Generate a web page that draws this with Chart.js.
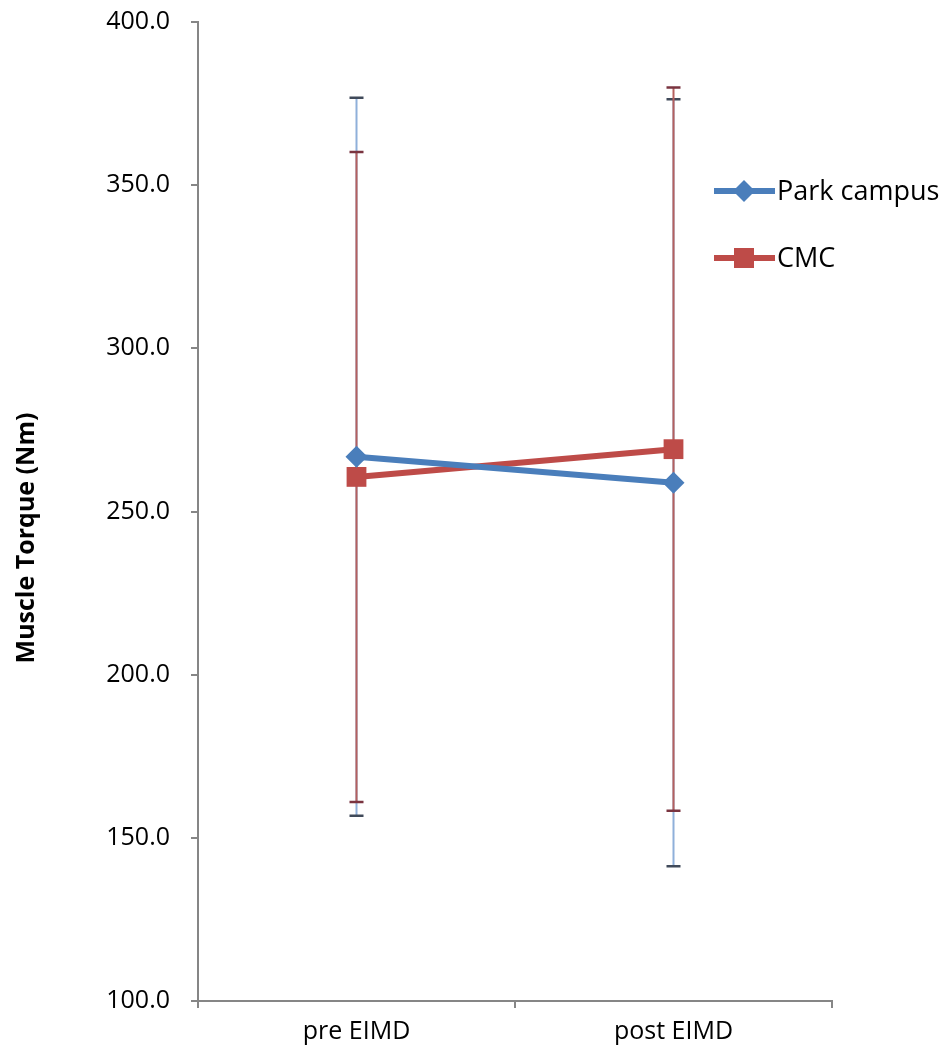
<!DOCTYPE html>
<html>
<head>
<meta charset="utf-8">
<title>Muscle Torque</title>
<script src="https://cdn.jsdelivr.net/npm/chart.js@4/dist/chart.umd.min.js"></script>
<style>
    body { margin: 0; background: #fff; }
    #wrap { width: 949px; height: 1052px; position: relative; }
</style>
</head>
<body>
<div id="wrap"><canvas id="torqueChart"></canvas></div>
<script>
// Data: mean torque and SD for each group
const groups = ["pre EIMD", "post EIMD"];
const parkMean = [266.8, 258.8];
const parkSd = [110.0, 117.5];
const cmcMean = [260.6, 269.1];
const cmcSd = [99.6, 110.8];
const yTicks = [100, 150, 200, 250, 300, 350, 400];

const FONT = "'Open Sans', 'Liberation Sans', sans-serif";
const AXIS_GREY = "#868686";

const seriesStyle = [
    { name: "Park campus", color: "#4A7EBB", errColor: "#8FB0DA", capColor: "#404a5a", shape: "diamond", sd: parkSd },
    { name: "CMC", color: "#BE4B48", errColor: "#B5605E", capColor: "#7a3440", shape: "square", sd: cmcSd }
];

// Error bars (+/- SD), drawn under the markers
const errorBars = {
    id: 'errorBars',
    beforeDatasetsDraw(chart) {
        const ctx = chart.ctx;
        const yScale = chart.scales.y;
        chart.data.datasets.forEach((ds, i) => {
            const meta = chart.getDatasetMeta(i);
            const st = seriesStyle[i];
            meta.data.forEach((pt, j) => {
                const x = pt.x;
                const yTop = yScale.getPixelForValue(ds.data[j] + st.sd[j]);
                const yBot = yScale.getPixelForValue(ds.data[j] - st.sd[j]);
                ctx.save();
                ctx.strokeStyle = st.errColor;
                ctx.lineWidth = 2;
                ctx.beginPath();
                ctx.moveTo(x, yTop);
                ctx.lineTo(x, yBot);
                ctx.stroke();
                ctx.strokeStyle = st.capColor;
                ctx.lineWidth = 2.5;
                ctx.beginPath();
                ctx.moveTo(x - 7, yTop); ctx.lineTo(x + 7, yTop);
                ctx.moveTo(x - 7, yBot); ctx.lineTo(x + 7, yBot);
                ctx.stroke();
                ctx.restore();
            });
        });
    }
};

// Legend on the right, overlapping the plot area, plus the rotated y title
const sideText = {
    id: 'sideText',
    afterDraw(chart) {
        const ctx = chart.ctx;
        ctx.save();
        const rows = [191, 258];
        seriesStyle.forEach((st, i) => {
            const y = rows[i];
            ctx.strokeStyle = st.color;
            ctx.lineWidth = 6;
            ctx.beginPath();
            ctx.moveTo(714, y);
            ctx.lineTo(775, y);
            ctx.stroke();
            ctx.fillStyle = st.color;
            ctx.beginPath();
            if (st.shape === "diamond") {
                ctx.moveTo(744, y - 11);
                ctx.lineTo(755, y);
                ctx.lineTo(744, y + 11);
                ctx.lineTo(733, y);
                ctx.closePath();
            } else {
                ctx.rect(734, y - 10, 20, 20);
            }
            ctx.fill();
            ctx.fillStyle = "#000";
            ctx.font = "27px " + FONT;
            ctx.textAlign = "left";
            ctx.textBaseline = "middle";
            ctx.fillText(st.name, 777, y + 1);
        });

        ctx.translate(27, 538);
        ctx.rotate(-Math.PI / 2);
        ctx.font = "bold 25px " + FONT;
        ctx.textAlign = "center";
        ctx.textBaseline = "middle";
        ctx.fillStyle = "#000";
        ctx.fillText("Muscle Torque (Nm)", 0, 0);
        ctx.restore();
    }
};

const ctx = document.getElementById('torqueChart').getContext('2d');
new Chart(ctx, {
    type: 'line',
    data: {
        labels: groups,
        datasets: [
            {
                label: "Park campus",
                data: parkMean,
                borderColor: "#4A7EBB",
                backgroundColor: "#4A7EBB",
                borderWidth: 6,
                pointStyle: 'rectRot',
                pointRadius: 11,
                pointHoverRadius: 11,
                pointBorderWidth: 0
            },
            {
                label: "CMC",
                data: cmcMean,
                borderColor: "#BE4B48",
                backgroundColor: "#BE4B48",
                borderWidth: 6,
                pointStyle: 'rect',
                pointRadius: 14,
                pointHoverRadius: 14,
                pointBorderWidth: 0
            }
        ]
    },
    options: {
        responsive: true,
        maintainAspectRatio: false,
        animation: false,
        events: [],
        layout: { padding: { top: 22, right: 117, left: 0, bottom: 0 } },
        plugins: {
            legend: { display: false },
            tooltip: { enabled: false }
        },
        scales: {
            x: {
                type: 'category',
                offset: true,
                afterFit(scale) {
                    scale.height = 51;
                    scale.paddingLeft = 0;
                    scale.paddingRight = 0;
                },
                grid: {
                    offset: true,
                    drawOnChartArea: false,
                    tickLength: 7,
                    color: AXIS_GREY,
                    lineWidth: 2
                },
                border: { color: AXIS_GREY, width: 2 },
                ticks: {
                    color: "#000",
                    padding: 9,
                    font: { family: FONT, size: 25 }
                }
            },
            y: {
                min: 100,
                max: 400,
                afterFit(scale) {
                    scale.width = 198;
                    scale.paddingTop = 0;
                    scale.paddingBottom = 0;
                },
                afterBuildTicks(scale) {
                    scale.ticks = yTicks.map(v => ({ value: v }));
                },
                grid: {
                    drawOnChartArea: false,
                    tickLength: 7,
                    color: AXIS_GREY,
                    lineWidth: 2
                },
                border: { color: AXIS_GREY, width: 2 },
                ticks: {
                    color: "#000",
                    padding: 21,
                    font: { family: FONT, size: 25 },
                    callback: v => v.toFixed(1)
                }
            }
        }
    },
    plugins: [errorBars, sideText]
});
</script>
</body>
</html>
